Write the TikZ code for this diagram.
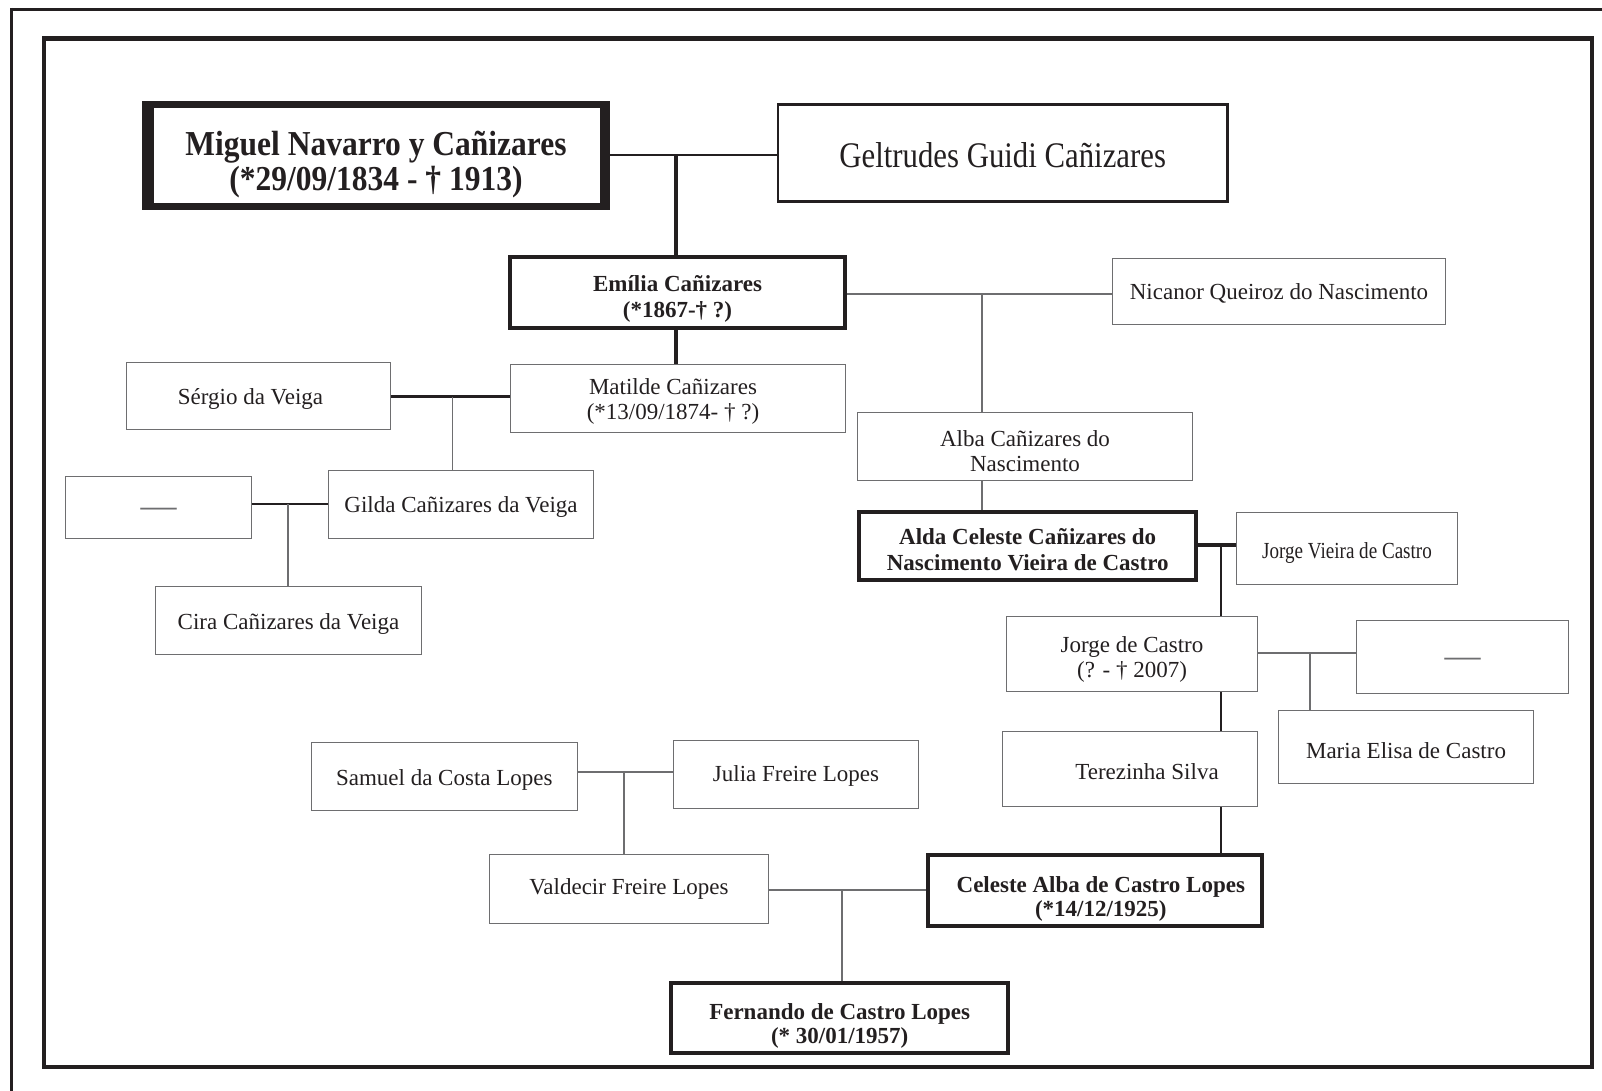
\documentclass[tikz,border=0pt]{standalone}
\usepackage{fontspec}
\setmainfont{Liberation Serif}
\usetikzlibrary{calc}
\definecolor{ink}{RGB}{35,31,32}
\definecolor{lgray}{RGB}{110,110,112}
\newcommand{\liftup}[1]{\rule{0pt}{#1pt}}
\begin{document}
\begin{tikzpicture}[x=1pt,y=-1pt,
  box/.style={draw=lgray, line width=1.2pt, rectangle, inner sep=0pt, align=center, text=ink,
    font=\fontsize{23}{25.5}\selectfont},
  bbox/.style={box, draw=ink, line width=4pt, font=\fontsize{23}{25.5}\selectfont\bfseries},
  thinc/.style={draw=lgray, line width=1.2pt},
  medc/.style={draw=ink, line width=2.4pt},
  thkc/.style={draw=ink, line width=3.8pt},
]
\useasboundingbox (0,0) rectangle (1602,1091);
% frames
\draw[ink, line width=3.5pt] (10,9.5) -- (1602,9.5);
\draw[ink, line width=3.5pt] (11.5,8) -- (11.5,1091);
\draw[ink, line width=4.5pt] (44,38.5) rectangle (1592,1067);

% top couple
\node[box, draw=ink, line width=7pt, minimum width=461pt, minimum height=101.5pt,
  font=\fontsize{35}{35}\selectfont\bfseries] (miguel) at (376,155.75)
  {\liftup{41}\scalebox{0.9}[1]{Miguel Navarro y Cañizares}\\\scalebox{0.9}[1]{(*29/09/1834 - † 1913)}};
\fill[ink] (miguel.north west) rectangle ($(miguel.south west)+(12,0)$);
\fill[ink] ($(miguel.north east)+(-10,0)$) rectangle (miguel.south east);
\node[box, draw=ink, line width=2.6pt, minimum width=449.5pt, minimum height=97.5pt,
  font=\fontsize{36}{40}\selectfont] (gelt) at (1002.7,153)
  {\liftup{30}\scalebox{0.855}[1]{Geltrudes Guidi Cañizares}};

% generation 2
\node[bbox, minimum width=335pt, minimum height=70.5pt] (emilia) at (677.5,292.7)
  {\liftup{28}Emília Cañizares\\(*1867-† ?)};
\node[box, minimum width=333pt, minimum height=66pt] (nicanor) at (1279,291.2)
  {\liftup{21}Nicanor Queiroz do Nascimento};
\node[box, minimum width=335pt, minimum height=68pt] (matilde) at (678,398.5)
  {\liftup{22}Matilde Cañizares\hspace*{10pt}\\(*13/09/1874- † ?)\hspace*{10pt}};
\node[box, minimum width=264pt, minimum height=67pt] (sergio) at (258.5,396)
  {\liftup{21}Sérgio da Veiga\hspace*{16pt}};
\node[box, minimum width=265pt, minimum height=68pt] (gilda) at (461,504.7)
  {\liftup{21}Gilda Cañizares da Veiga};
\node[box, minimum width=186pt, minimum height=62pt, text=lgray,
  font=\fontsize{36}{36}\selectfont] (dashA) at (158.5,507.7) {\liftup{20}—};
\node[box, minimum width=266pt, minimum height=68pt] (cira) at (288.5,620.2)
  {\liftup{24}Cira Cañizares da Veiga};
\node[box, minimum width=335pt, minimum height=68pt] (alba) at (1025,446.5)
  {\liftup{25}Alba Cañizares do\\Nascimento};
\node[bbox, minimum width=337.5pt, minimum height=68pt] (alda) at (1027.7,546)
  {\liftup{23}Alda Celeste Cañizares do\\Nascimento Vieira de Castro};
\node[box, minimum width=221pt, minimum height=72pt] (jorgev) at (1347,548.7)
  {\liftup{24}\scalebox{0.83}[1]{Jorge Vieira de Castro}};
\node[box, minimum width=251pt, minimum height=75pt] (jorge) at (1132,654)
  {\liftup{27}Jorge de Castro\\(? - † 2007)};
\node[box, minimum width=212pt, minimum height=73pt, text=lgray,
  font=\fontsize{36}{36}\selectfont] (dashB) at (1462.5,657) {\liftup{20}—};
\node[box, minimum width=255pt, minimum height=73pt] (maria) at (1406,747)
  {\liftup{23}Maria Elisa de Castro};
\node[box, minimum width=255pt, minimum height=75pt] (terez) at (1130,769.2)
  {\liftup{21}\hspace*{34pt}Terezinha Silva};
\node[bbox, minimum width=334.4pt, minimum height=71pt,
  font=\fontsize{23}{24.5}\selectfont\bfseries] (celeste) at (1094.8,890.5)
  {\liftup{33}\hspace*{12pt}Celeste Alba de Castro Lopes\\\hspace*{12pt}(*14/12/1925)};
\node[box, minimum width=266pt, minimum height=68pt] (samuel) at (444.3,776.5)
  {\liftup{23}Samuel da Costa Lopes};
\node[box, minimum width=245pt, minimum height=68pt] (julia) at (796,774.5)
  {\liftup{19}Julia Freire Lopes};
\node[box, minimum width=279pt, minimum height=69pt] (valdecir) at (629,889)
  {Valdecir Freire Lopes};
\node[bbox, minimum width=337.5pt, minimum height=69.5pt,
  font=\fontsize{23}{24}\selectfont\bfseries] (fernando) at (839.7,1018)
  {\liftup{31}Fernando de Castro Lopes\\(* 30/01/1957)};

% connectors
\coordinate (j1) at (676,155);
\draw[medc] (miguel.east |- j1) -- (gelt.west |- j1);
\draw[thkc] (j1) -- (j1 |- emilia.north);
\draw[thkc] (j1 |- emilia.south) -- (j1 |- matilde.north);
\coordinate (j2) at (982,294);
\draw[thinc] (emilia.east |- j2) -- (nicanor.west |- j2);
\draw[thinc] (j2) -- (j2 |- alba.north);
\draw[thinc] (j2 |- alba.south) -- (j2 |- alda.north);
\coordinate (j3) at (452.6,396.5);
\draw[medc] (sergio.east |- j3) -- (matilde.west |- j3);
\draw[thinc] (j3) -- (j3 |- gilda.north);
\coordinate (j4) at (288,504);
\draw[medc] (dashA.east |- j4) -- (gilda.west |- j4);
\draw[thinc] (j4) -- (j4 |- cira.north);
\coordinate (j5) at (1221,544.6);
\draw[thkc] (alda.east |- j5) -- (jorgev.west |- j5);
\draw[medc] (j5) -- (j5 |- jorge.north);
\draw[medc] (j5 |- jorge.south) -- (j5 |- terez.north);
\draw[medc] (j5 |- terez.south) -- (j5 |- celeste.north);
\coordinate (j6) at (1310,653);
\draw[thinc] (jorge.east |- j6) -- (dashB.west |- j6);
\draw[thinc] (j6) -- (j6 |- maria.north);
\coordinate (j7) at (624,772);
\draw[thinc] (samuel.east |- j7) -- (julia.west |- j7);
\draw[thinc] (j7) -- (j7 |- valdecir.north);
\coordinate (j8) at (842,890);
\draw[thinc] (valdecir.east |- j8) -- (celeste.west |- j8);
\draw[thinc] (j8) -- (j8 |- fernando.north);
\end{tikzpicture}
\end{document}
